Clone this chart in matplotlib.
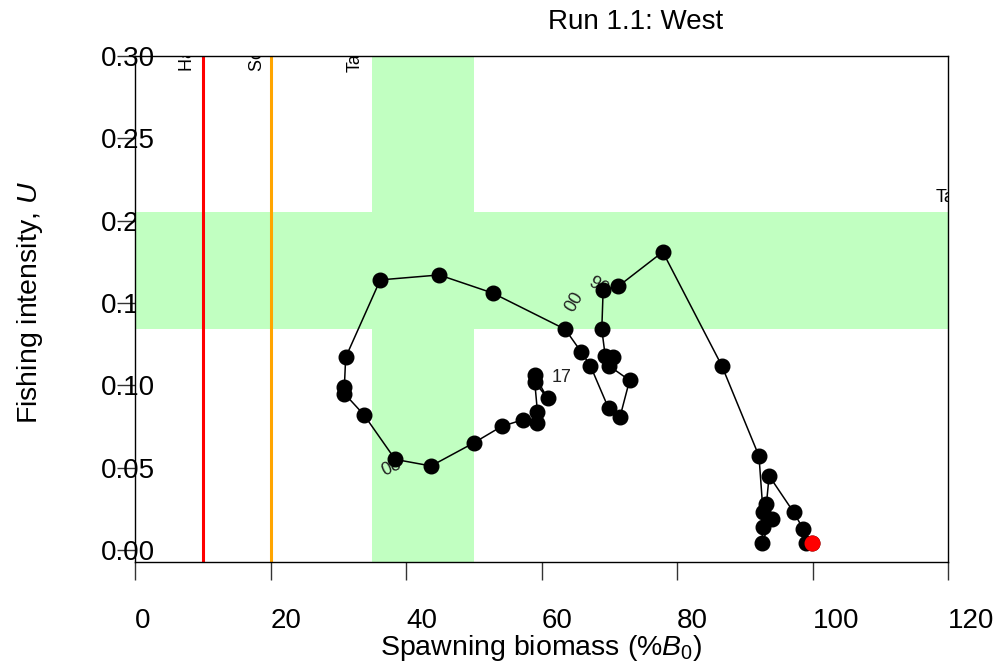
import matplotlib
matplotlib.use("Agg")
import matplotlib.pyplot as plt

plt.rcParams['font.family'] = 'Liberation Sans'
plt.rcParams['mathtext.fontset'] = 'custom'
plt.rcParams['mathtext.rm'] = 'Liberation Sans'
plt.rcParams['mathtext.it'] = 'Liberation Sans:italic'

# spawning biomass (% of B0) and fishing intensity, in time order
biomass = [99.9, 99.1, 98.6, 97.2, 93.6, 93.2, 94.0, 92.5, 92.7, 92.7,
           92.1, 86.6, 77.9, 71.3, 69.1, 68.9, 69.4, 70.6, 69.9, 73.0,
           71.6, 69.9, 67.2, 65.9, 63.5, 52.8, 44.9, 36.2, 31.1, 30.9,
           30.9, 33.8, 38.4, 43.7, 50.0, 54.1, 57.2, 59.3, 59.4, 59.0,
           60.9, 59.0]
harvest = [0.004, 0.004, 0.013, 0.023, 0.045, 0.028, 0.019, 0.004, 0.014, 0.023,
           0.057, 0.112, 0.181, 0.160, 0.158, 0.134, 0.118, 0.117, 0.112, 0.103,
           0.081, 0.086, 0.112, 0.120, 0.134, 0.156, 0.167, 0.164, 0.117, 0.099,
           0.095, 0.082, 0.055, 0.051, 0.065, 0.075, 0.079, 0.077, 0.084, 0.102,
           0.092, 0.106]

# reference points and zones
hard_limit = 10
soft_limit = 20
target_b = (35, 50)
target_u = (0.134, 0.205)

# year labels along the trail: text, x, y, rotation
year_labels = [("90", 68.3, 0.1600, -30),
               ("00", 64.8, 0.1506, 60),
               ("08", 37.9, 0.0498, 25),
               ("17", 63.0, 0.1050, 0)]

fig = plt.figure(figsize=(10, 6.66), dpi=100)
ax = fig.add_axes([0.135, 0.1562, 0.813, 0.7598])

green = '#C1FFC1'
ax.axvspan(target_b[0], target_b[1], color=green, lw=0, zorder=1.8)
ax.axhspan(target_u[0], target_u[1], color=green, lw=0, zorder=1.8)

ax.axvline(hard_limit, color='red', lw=2.2, zorder=2)
ax.axvline(soft_limit, color='#FFA500', lw=2.2, zorder=2)

ax.text(7.8, 0.291, 'Hard limit', rotation=90, ha='center', va='bottom',
        fontsize=13, clip_on=True, zorder=2)
ax.text(18.1, 0.291, 'Soft limit', rotation=90, ha='center', va='bottom',
        fontsize=13, clip_on=True, zorder=2)
ax.text(32.5, 0.290, 'Target', rotation=90, ha='center', va='bottom',
        fontsize=13, clip_on=True, zorder=2)
ax.text(118.1, 0.2138, 'Target', ha='left', va='center',
        fontsize=13, clip_on=True, zorder=2)

for txt, x, y, rot in year_labels:
    ax.text(x, y, txt, rotation=rot, ha='center', va='center',
            fontsize=13, color='#222222', zorder=2.6)

ax.plot(biomass, harvest, '-', color='black', lw=1.1, zorder=3)
ax.plot(biomass, harvest, 'o', color='black', ms=10.5, zorder=3)
ax.plot(biomass[0], harvest[0], 'o', color='red', ms=10.5, zorder=4)

ax.set_xlim(0, 120)
ax.set_ylim(-0.0073, 0.3)
ax.set_xticks([0, 20, 40, 60, 80, 100, 120])
ax.set_yticks([0.0, 0.05, 0.10, 0.15, 0.20, 0.25, 0.30])
ax.set_yticklabels(['0.00', '0.05', '0.10', '0.15', '0.20', '0.25', '0.30'])
ax.tick_params(axis='both', direction='out', length=13, width=1,
               labelsize=20, color='#333333')
ax.tick_params(axis='x', pad=20)
ax.tick_params(axis='y', pad=-27.5)
plt.setp(ax.get_xticklabels(), ha='left')
for s in ax.spines.values():
    s.set_linewidth(1.0)

fig.text(0.636, 0.967, 'Run 1.1: West', ha='center', va='center', fontsize=20)
fig.text(0.541, 0.027, r'Spawning biomass (%$B_0$)', ha='center', va='center',
         fontsize=20.5)
fig.text(0.030, 0.545, r'Fishing intensity, $U$', rotation=90, ha='center',
         va='center', fontsize=20.5)

plt.savefig('out.png', dpi=100)
